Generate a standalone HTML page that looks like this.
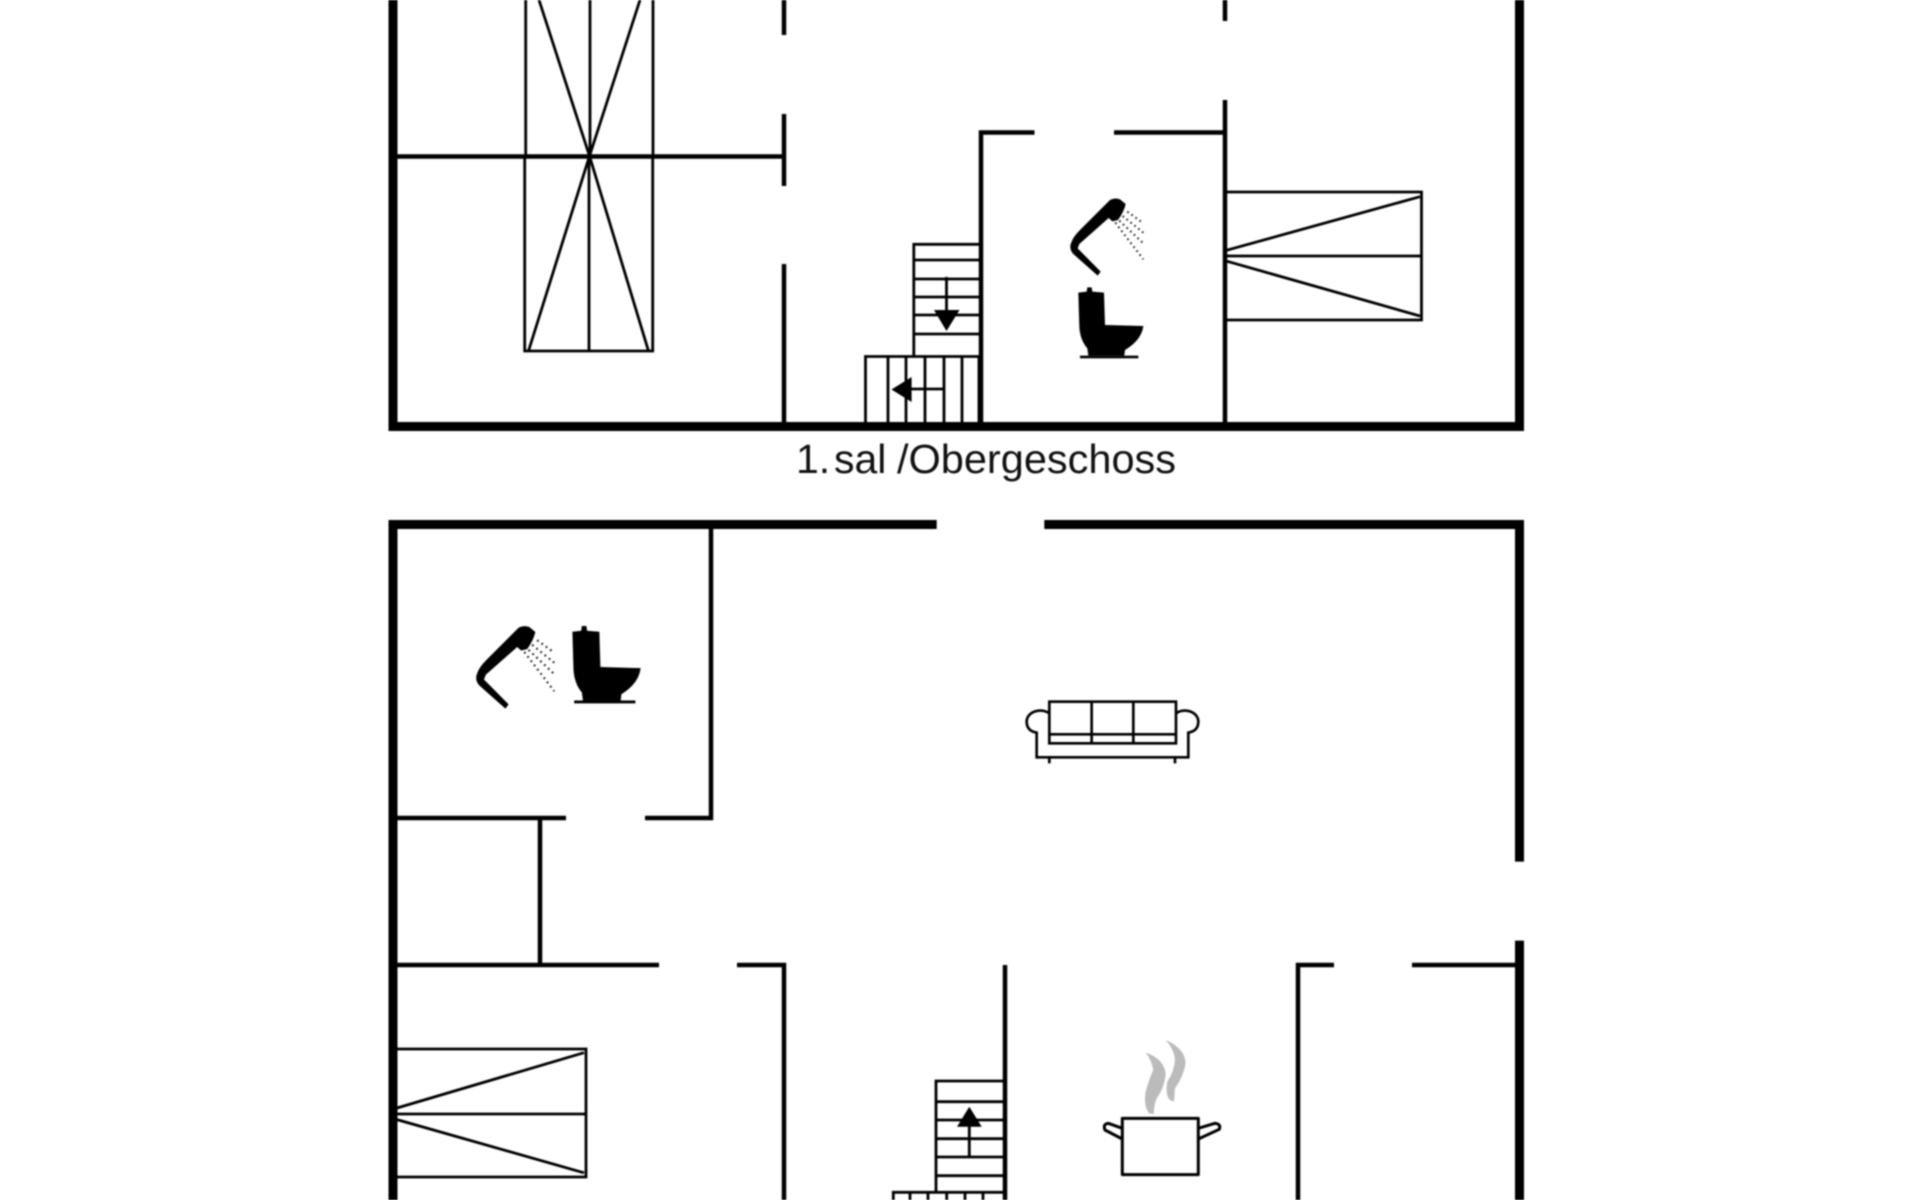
<!DOCTYPE html>
<html><head><meta charset="utf-8"><title>Floor plan</title>
<style>html,body{margin:0;padding:0;background:#fff;width:1920px;height:1200px;overflow:hidden}svg{display:block;filter:blur(.7px)}</style></head>
<body>
<svg width="1920" height="1200" viewBox="0 0 1920 1200" xmlns="http://www.w3.org/2000/svg" fill="none" stroke="#000">
<defs>
<g id="shower">
<path fill="#000" stroke="none" d="M240,60 Q255,52 270,58 L287,72 Q282,95 264,120 L247,124 L236,114 L148,192 L143,205 L212,275 L203,287 L130,222 Q115,205 125,185 Q130,170 150,150 Z"/>
<g stroke="#222" stroke-width="6" stroke-dasharray="5 10">
<path d="M292,95 L340,130"/><path d="M278,108 L340,158"/><path d="M268,122 L340,190"/><path d="M256,128 L340,238"/>
</g>
</g>
<g id="toilet">
<path fill="#000" stroke="none" d="M145,338 L170,335 L172,322 L185,322 L187,335 L222,338 L225,435 L340,438 Q335,480 285,510 L283,527 L175,527 L172,505 Q150,480 148,440 Z"/>
<rect x="150" y="527" width="175" height="8" fill="#000" stroke="none"/>
</g>
</defs>

<!-- Upper floor outer walls -->
<g stroke-width="9">
<path d="M393,0 V426.500 H1519.500 V0"/>
</g>
<!-- Upper floor inner walls -->
<g stroke-width="4.500">
<path d="M784,0 V35 M784,114 V186 M784,264 V426"/>
<path d="M397,156.500 H784"/>
<path d="M1225,0 V21 M1225,100 V426"/>
<path d="M1034.500,132.500 H981 V426"/>
<path d="M1114,132.500 H1225"/>
</g>
<!-- Upper floor left bed -->
<g stroke-width="2.800">
<path d="M525.700,0 V156 M590,0 V156 M653,0 V156"/>
<path d="M524.700,156 V351 H652.700 V156 M589,156 V351"/>
<path d="M539,0 L589.500,156 L528.500,351 M640,0 L589.500,156 L648.500,351"/>
</g>
<!-- Upper floor right bed -->
<g stroke-width="2.800">
<path d="M1225,192 H1421.500 V320 H1225 M1225,256 H1421"/>
<path d="M1225,250.700 L1420,196.700 M1225,260.700 L1420,316"/>
</g>
<!-- Upper stairs -->
<g stroke-width="2.800">
<path d="M981,244.300 H913.800 V356.500"/>
<path d="M913.800,260 H981 M913.800,279 H981 M913.800,297 H981 M913.800,315 H981 M913.800,334 H981"/>
<path d="M865.500,426 V356.500 H981"/>
<path d="M888,356.500 V426 M906,356.500 V426 M925,356.500 V426 M944,356.500 V426 M962,356.500 V426 M979,356.500 V426"/>
<path d="M946.500,277 V315 M945,389 H905"/>
</g>
<path fill="#000" stroke="none" d="M934,310 H959.500 L946.500,331 Z M911.600,377 V402 L891.500,389.500 Z"/>

<use href="#shower" transform="translate(1030,180) scale(.3333)"/>
<use href="#toilet" transform="translate(1030,180) scale(.3333)"/>

<g font-family="'Liberation Sans',sans-serif" font-size="41" fill="#111" stroke="none">
<text x="796" y="473">1.</text>
<text x="834" y="473">sal</text>
<text x="897" y="473" textLength="279" lengthAdjust="spacingAndGlyphs">/Obergeschoss</text>
</g>

<!-- Ground floor outer walls -->
<g stroke-width="9">
<path d="M936.700,524.500 H393 V1200"/>
<path d="M1044.300,524.500 H1519.500 V861.600"/>
<path d="M1519.500,940.600 V1200"/>
</g>
<!-- Ground floor inner walls -->
<g stroke-width="4.500">
<path d="M711,524 V818 H645"/>
<path d="M397,818 H566"/>
<path d="M540,818 V965"/>
<path d="M397,965 H659"/>
<path d="M737,965 H784 V1200"/>
<path d="M1005,965 V1200"/>
<path d="M1334,965 H1298 V1200"/>
<path d="M1412,965 H1515"/>
</g>
<!-- Ground floor bed -->
<g stroke-width="2.800">
<path d="M397,1049 H586 V1177 H397 M397,1114 H585"/>
<path d="M397,1108 L584,1052.700 M397,1119.600 L584,1172.800"/>
</g>
<!-- Ground floor stairs -->
<g stroke-width="2.800">
<path d="M1005,1081 H936 V1192.300"/>
<path d="M936,1101.700 H1005 M936,1120 H1005 M936,1138.700 H1005 M936,1157 H1005 M936,1175.700 H1005"/>
<path d="M893.300,1200 V1192.300 H1005"/>
<path d="M910,1192.300 V1200 M928,1192.300 V1200 M946.700,1192.300 V1200 M965,1192.300 V1200 M983,1192.300 V1200"/>
<path d="M969.300,1158 V1125"/>
</g>
<path fill="#000" stroke="none" d="M969.300,1106.700 L981.700,1126.700 H957 Z"/>

<use href="#shower" transform="translate(460,610) scale(.3333) translate(-81,-11) scale(1.07)"/>
<use href="#toilet" transform="translate(460,610) scale(.3333) translate(185,-303) scale(1.05,1.09)"/>

<!-- Sofa -->
<g transform="translate(1010,680) scale(.3333)" stroke-width="8">
<rect x="118" y="65" width="380" height="125"/>
<path d="M245,65 V190 M370,65 V190 M118,163 H498"/>
<path d="M118,100 C92,82 50,95 50,125 C50,150 67,155 80,158 V232 H535 V158 C548,155 565,150 565,125 C565,95 523,82 498,100"/>
<path d="M118,232 V250 M495,232 V250"/>
</g>

<!-- Pot -->
<g transform="translate(880,1020) scale(.3333)">
<path fill="#bbb" stroke="none" d="M797,98 Q850,115 857,160 Q855,200 830,235 Q820,260 822,282 L808,280 Q790,260 797,215 Q810,170 820,150 Q815,120 797,98 Z M857,60 Q915,85 917,130 Q910,170 885,205 L882,245 L870,240 Q855,225 862,185 Q885,150 885,115 Q880,85 857,60 Z"/>
<g stroke-width="9" stroke-linejoin="round">
<path d="M727,464 V295 H955 V464 Z"/>
<path d="M727,325 L685,310 Q668,312 675,330 L727,357"/>
<path d="M955,325 L1005,310 Q1024,312 1018,328 L955,357"/>
</g>
</g>
</svg>
</body></html>
